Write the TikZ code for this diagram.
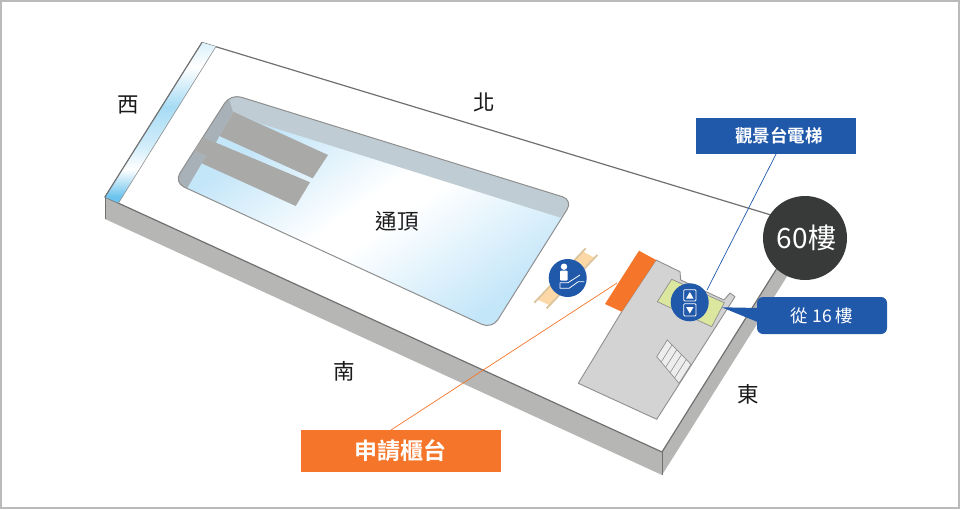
\documentclass[tikz,border=0pt]{standalone}
\usepackage{fontspec}
\setmainfont{Noto Sans CJK TC}
\newfontfamily\cjkb{Noto Sans CJK TC Bold}
\usetikzlibrary{calc}
\definecolor{blueA}{HTML}{2058AA}
\definecolor{orangeA}{HTML}{F5762A}
\definecolor{sideG}{HTML}{B6B7B5}
\definecolor{edgeG}{HTML}{707070}
\definecolor{floorG}{HTML}{D3D3D3}
\definecolor{floorE}{HTML}{8F8F8F}
\definecolor{barG}{HTML}{A9A9A7}
\definecolor{wallT}{HTML}{C0CCD3}
\definecolor{wallL}{HTML}{A8B1B7}
\definecolor{skyB}{HTML}{C4E6F9}
\definecolor{stripB}{HTML}{6CC4EE}
\definecolor{greenA}{HTML}{DBE69F}
\definecolor{tanA}{HTML}{FBD8A6}
\definecolor{tanE}{HTML}{DCC49C}
\definecolor{darkA}{HTML}{383A39}
\pgfdeclarehorizontalshading{skyshade}{100bp}{color(0bp)=(skyB); color(30bp)=(skyB); color(48bp)=(white); color(53bp)=(white); color(74bp)=(skyB); color(100bp)=(skyB)}
\pgfdeclareverticalshading{stripshade}{100bp}{color(0bp)=(stripB); color(27bp)=(stripB); color(35.5bp)=(white); color(42.5bp)=(stripB!30!white); color(55bp)=(stripB!60!white); color(67.5bp)=(white); color(75bp)=(stripB!25!white); color(100bp)=(stripB!25!white)}
\tikzset{
  lab/.style={font=\fontsize{21.5}{22}\selectfont,text=black!90,inner sep=0pt},
  iconline/.style={draw=white,line width=0.8pt,fill=none},
  leaderb/.style={draw=blueA,line width=0.7pt},
  leadero/.style={draw=orangeA,line width=0.7pt},
  floorface/.style={draw=floorE,line width=0.9pt,line join=round},
  roundbadge/.style={circle,fill=blueA,minimum size=38pt,inner sep=0pt}
}
\begin{document}
\begin{tikzpicture}[x=1pt,y=-1pt]
\useasboundingbox (0,0) rectangle (960,509);
\fill[white] (0,0) rectangle (960,509);
% building sides
\fill[sideG] (105,197) -- (662,452) -- (662,475) -- (105,219) -- cycle;
\fill[sideG] (662,452) -- (804,225) -- (815,232) -- (662,475) -- cycle;
\draw[edgeG,line width=0.8pt] (662,452) -- (662,475);
\draw[edgeG,line width=0.6pt] (105,197) -- (105,219);
% roof
\filldraw[fill=white,draw=edgeG,line width=1.2pt,line join=round] (202,42.5) -- (105,197) -- (662,452) -- (804,225) -- cycle;
% west strip
\shade[shading=stripshade,shading angle=0] (202,42.5) -- (216,46.5) -- (118.5,203) -- (105,197) -- cycle;
\draw[edgeG,line width=1pt] (202,42.5) -- (105,197);
\draw[floorE,line width=0.6pt] (216,46.5) -- (118.5,203);
% skylight
\shade[shading=skyshade,shading angle=-55,rounded corners=11pt] (230.6,93.9) -- (573,200) -- (492,329) -- (174,182.4) -- cycle;
\begin{scope}
\clip[rounded corners=11pt] (230.6,93.9) -- (573,200) -- (492,329) -- (174,182.4) -- cycle;
\fill[wallT] (225,85) -- (590,195) -- (560,217.5) -- (262,124) -- (233,112) -- cycle;
\fill[wallL] (233,112) -- (219.3,136) -- (216,142.7) -- (203.3,137.3) -- (194.3,150.7) -- (206,156) -- (201.7,163.3) -- (186.7,189) -- (160,180) -- (225,85) -- cycle;
\end{scope}
\draw[floorE,line width=1pt,rounded corners=11pt] (230.6,93.9) -- (573,200) -- (492,329) -- (174,182.4) -- cycle;
\fill[barG] (233.3,111.7) -- (328,155) -- (312.7,178.3) -- (219.3,136) -- cycle;
\fill[barG] (203.3,137.3) -- (216,142.7) -- (310,182.3) -- (295.7,206) -- (201.7,163.3) -- (206,156) -- (194.3,150.7) -- cycle;
% escalator
\fill[tanA] (583,251.5) -- (594,257.5) -- (549,305) -- (537.5,299.5) -- cycle;
\draw[tanE,line width=1.8pt] (585.7,248.3) -- (534.3,302.7);
\draw[tanE,line width=1.8pt] (597.3,255) -- (546.7,308.3);
\node[roundbadge,minimum size=38pt] (esc) at (567.7,278) {};
\fill[white] (564,266.7) circle (3.2);
\fill[white,rounded corners=1pt] (560,270.7) rectangle (567.7,280.7);
\draw[iconline] (560,282.7) -- (568,282.7) -- (580,275);
\draw[iconline] (560,282.7) -- (560,288.3) -- (569,288.3) -- (578.3,281.7) -- (584.3,281.7);
% floor
\filldraw[fill=floorG,floorface] (656,260) -- (680,271.7) -- (680.7,280) -- (724,300) -- (730,293) -- (735,296.7) -- (656.7,419.3) -- (578.3,383.3) -- (621.7,311.7) -- cycle;
\fill[orangeA] (639,250.7) -- (656,260) -- (621.7,311.7) -- (605,304) -- cycle;
\filldraw[fill=greenA,draw=floorE,line width=0.7pt] (671.7,279.3) -- (724.3,302.7) -- (711.7,326.7) -- (657.3,301.7) -- cycle;
% stairs
\filldraw[fill=white!93!black,draw=floorE,line width=0.7pt] (667.3,340) -- (691,364.3) -- (679,383.3) -- (656.7,356.7) -- cycle;
\foreach \t in {0.2,0.4,0.6,0.8}
  \draw[floorE,line width=0.6pt] ($(667.3,340)!\t!(691,364.3)$) -- ($(656.7,356.7)!\t!(679,383.3)$);
% leaders
\node[fill=blueA,minimum width=160pt,minimum height=36pt,inner sep=0pt] (elevbox) at (776,136) {};
\node[text=white,inner sep=0pt,font=\cjkb\fontsize{17.5}{18}\selectfont] (elevtext) at (779,136) {觀景台電梯};
\node[roundbadge] (elev) at (689.7,302.3) {};
\coordinate (elevtop) at (707,290);
\draw[leaderb] (elevbox.south) -- (elevtop);
\node[fill=orangeA,text=white,minimum width=200pt,minimum height=42pt,inner sep=0pt,font=\cjkb\fontsize{23}{23}\selectfont] (deskbox) at (401,451) {\hspace*{-2pt}申請櫃台};
\coordinate (deskend) at (617,283);
\coordinate (deskstart) at (391,430);
\draw[leadero] (deskstart) -- (deskend);
% elevator icon
\draw[white,line width=0.8pt,rounded corners=1pt] (683.7,289.7) rectangle (696,301);
\draw[white,line width=0.8pt,rounded corners=1pt] (683.7,303.7) rectangle (696,316);
\fill[white] (689.8,292) -- (693.5,298.5) -- (686.1,298.5) -- cycle;
\fill[white] (689.8,313.5) -- (693.5,307) -- (686.1,307) -- cycle;
% 60 badge
\node[circle,fill=darkA,minimum size=84pt,inner sep=0pt] (sixty) at (805,238) {};
\node[text=white,inner sep=0pt,font=\fontsize{28}{28}\selectfont] (sixtytext) at (806.5,238) {60樓};
% callout
\coordinate (tip) at (721.7,307.3);
\fill[blueA] (tip) -- (760,308) -- (760,323) -- cycle;
\node[fill=blueA,text=white,rounded corners=6pt,minimum width=130pt,minimum height=37pt,inner sep=0pt,font=\fontsize{17.5}{18}\selectfont] (from16) at (822,315.5) {從 16 樓};
% compass labels
\node[lab] (w) at (128,105) {西};
\node[lab] (n) at (484,102) {北};
\node[lab] (s) at (344,371) {南};
\node[lab] (e) at (748,394) {東};
\node[lab] (roof) at (397,221) {通頂};
% frame
\draw[black!27,line width=2pt] (1,1) rectangle (959,508);
\end{tikzpicture}
\end{document}
